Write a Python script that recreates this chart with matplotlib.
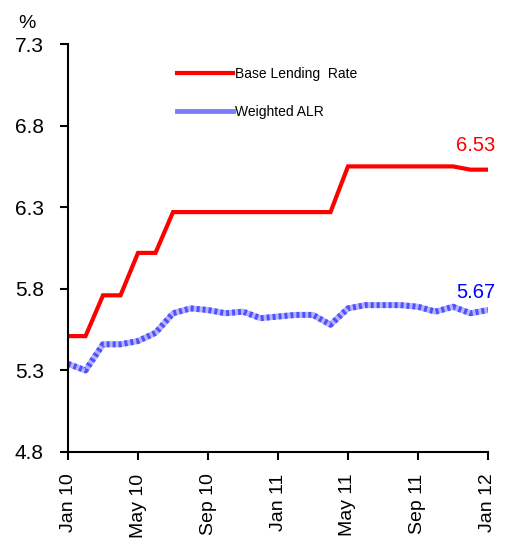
import matplotlib
matplotlib.use("Agg")
import matplotlib.pyplot as plt
import numpy as np

plt.rcParams["font.family"] = ["Liberation Sans", "DejaVu Sans"]

# Monthly observations, Jan 2010 - Jan 2012
months = ["Jan 10", "Feb 10", "Mar 10", "Apr 10", "May 10", "Jun 10", "Jul 10",
          "Aug 10", "Sep 10", "Oct 10", "Nov 10", "Dec 10", "Jan 11", "Feb 11",
          "Mar 11", "Apr 11", "May 11", "Jun 11", "Jul 11", "Aug 11", "Sep 11",
          "Oct 11", "Nov 11", "Dec 11", "Jan 12"]
blr = [5.51, 5.51, 5.76, 5.76, 6.02, 6.02, 6.27, 6.27, 6.27, 6.27, 6.27,
       6.27, 6.27, 6.27, 6.27, 6.27, 6.55, 6.55, 6.55, 6.55, 6.55, 6.55,
       6.55, 6.53, 6.53]
alr = [5.34, 5.30, 5.46, 5.46, 5.48, 5.53, 5.65, 5.68, 5.67, 5.65, 5.66,
       5.62, 5.63, 5.64, 5.64, 5.58, 5.68, 5.70, 5.70, 5.70, 5.69, 5.66,
       5.69, 5.65, 5.67]
tick_labels = months[::4]

x = np.arange(len(months))

fig = plt.figure(figsize=(5.05, 5.48), dpi=100)
ax = fig.add_axes([0.1347, 0.1752, 0.8316, 0.7445])

ax.plot(x, blr, color="#ff0000", lw=3.0, solid_joinstyle="miter",
        label="Base Lending  Rate")
# checkered blue band for the weighted ALR
ax.plot(x, alr, color="#b4b4ff", lw=4.3, solid_joinstyle="round")
ax.plot(x, alr, color="#5050ff", lw=4.3, linestyle=(0, (0.5, 0.5)),
        dash_capstyle="butt")
ax.plot([], [], color="#7c7cfa", lw=3.5, label="Weighted ALR")

ax.text(x[-1] - 0.7, blr[-1] + 0.09, f"{blr[-1]:.2f}", color="#ff0000",
        fontsize=14.5, ha="center", va="bottom")
ax.text(x[-1] - 0.7, alr[-1] + 0.05, f"{alr[-1]:.2f}", color="#0000ff",
        fontsize=14.5, ha="center", va="bottom")

ax.set_xlim(0, len(months) - 1)
ax.set_ylim(4.8, 7.3)
ax.set_yticks(np.arange(4.8, 7.31, 0.5))
ax.set_yticklabels([f"{v:.1f}" for v in np.arange(4.8, 7.31, 0.5)],
                   fontsize=15)
ax.set_xticks(x[::4])
ax.set_xticklabels(tick_labels, rotation=90, fontsize=14)

for side in ("top", "right"):
    ax.spines[side].set_visible(False)
for side in ("left", "bottom"):
    ax.spines[side].set_linewidth(1.5)
ax.tick_params(axis="both", direction="out", length=5.5, width=1.5)
ax.tick_params(axis="y", pad=12)
ax.tick_params(axis="x", pad=10)

ax.text(-0.098, 1.03, "%", transform=ax.transAxes, fontsize=14,
        ha="center", va="bottom")

ax.legend(loc="upper left", bbox_to_anchor=(0.23, 0.975), frameon=False,
          fontsize=10, handlelength=4.0, handletextpad=0.2, labelspacing=1.75)

fig.savefig("out.png", dpi=100)
